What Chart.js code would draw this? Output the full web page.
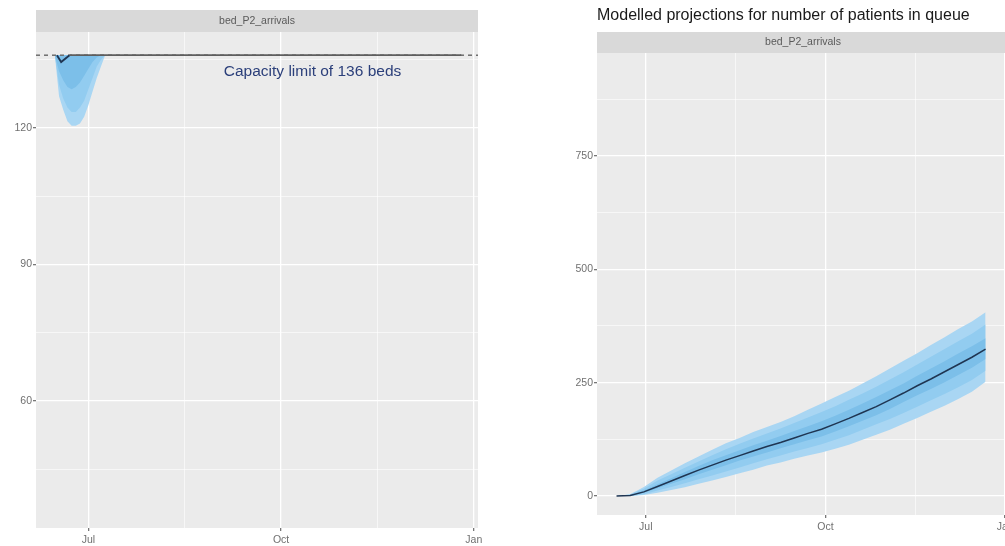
<!DOCTYPE html>
<html>
<head>
<meta charset="utf-8">
<script src="https://cdn.jsdelivr.net/npm/chart.js@4.4.1/dist/chart.umd.min.js"></script>
<style>
html, body { margin: 0; padding: 0; background: #fff; overflow: hidden; width: 1005px; height: 546px; }
#bedChart { position: absolute; left: 0; top: 0; }
#queueChart { position: absolute; left: 500px; top: 0; }
</style>
</head>
<body>
<canvas id="bedChart" width="500" height="546"></canvas>
<canvas id="queueChart" width="520" height="546"></canvas>
<script>
const stripLabel = 'bed_P2_arrivals';
const queueTitle = 'Modelled projections for number of patients in queue';
const capacity = 136;
const capacityLabel = 'Capacity limit of 136 beds';
const capacityLabelDate = '2020-10-16';
const capacityLabelValue = 132.3;

const originDate = '2020-07-01';
const xMinDate = '2020-06-06';
const xMaxDate = '2021-01-03';
const xTickDates = ['2020-07-01', '2020-10-01', '2021-01-01'];
const xTickLabels = ['Jul', 'Oct', 'Jan'];
const xMinorDates = ['2020-08-16', '2020-11-16'];

const bedYTicks = [60, 90, 120];
const bedYMinor = [45, 75, 105, 135];
const queueYTicks = [0, 250, 500, 750];
const queueYMinor = [125, 375, 625, 875];

// beds occupied (left panel)
const bedDates = ['2020-06-15', '2020-06-17', '2020-06-19', '2020-06-21', '2020-06-23', '2020-06-25', '2020-06-27',
                  '2020-06-29', '2020-07-01', '2020-07-03', '2020-07-05', '2020-07-07', '2020-07-09'];
const bedHigh = [136, 136, 136, 136, 136, 136, 136, 136, 136, 136, 136, 136, 136];
const bedLow90 = [136, 127, 124, 121.5, 120.5, 120.5, 121, 122.5, 125, 128, 131, 133.5, 136];
const bedLow75 = [136, 129.5, 126.5, 124.5, 123.5, 123.5, 124.5, 126, 128.5, 131, 133.5, 135, 136];
const bedLow50 = [136, 132.5, 130.5, 129, 128.5, 129, 130, 131.5, 133, 134.5, 135.5, 136, 136];
const bedMedianDates = ['2020-06-16', '2020-06-18', '2020-06-22', '2020-12-26'];
const bedMedian = [136, 134.5, 136, 136];

// patients in queue (right panel)
const queueDates = ['2020-06-16', '2020-06-23', '2020-06-30', '2020-07-07', '2020-07-14', '2020-07-21', '2020-07-28',
                    '2020-08-04', '2020-08-11', '2020-08-18', '2020-08-25', '2020-09-01', '2020-09-08', '2020-09-15',
                    '2020-09-22', '2020-09-29', '2020-10-06', '2020-10-13', '2020-10-20', '2020-10-27', '2020-11-03',
                    '2020-11-10', '2020-11-17', '2020-11-24', '2020-12-01', '2020-12-08', '2020-12-15', '2020-12-22'];
const queueMedian = [0, 1, 9, 21, 33, 45, 57, 68, 79, 89, 99, 109, 118, 128, 138, 147, 159, 171, 184, 197, 212, 227, 243, 258, 274, 290, 306, 324];
const queueLow90 = [0, 0, 2, 7, 13, 19, 27, 34, 42, 50, 58, 67, 74, 82, 89, 96, 104, 113, 124, 135, 146, 159, 172, 186, 199, 214, 230, 252];
const queueHigh90 = [0, 4, 20, 40, 56, 72, 87, 102, 116, 128, 141, 152, 163, 176, 190, 204, 218, 232, 248, 264, 281, 298, 315, 333, 350, 368, 385, 405];
const queueLow75 = [0, 0, 4, 12, 20, 28, 37, 45, 54, 63, 72, 81, 89, 98, 106, 114, 124, 134, 146, 158, 170, 183, 197, 211, 225, 240, 256, 276];
const queueHigh75 = [0, 3, 16, 34, 48, 62, 76, 90, 103, 115, 127, 138, 149, 161, 173, 185, 198, 212, 226, 241, 257, 273, 290, 307, 324, 341, 358, 378];
const queueLow50 = [0, 1, 7, 17, 27, 37, 48, 58, 68, 78, 87, 96, 105, 114, 123, 131, 142, 154, 166, 178, 192, 207, 222, 236, 251, 267, 283, 302];
const queueHigh50 = [0, 2, 12, 26, 39, 53, 66, 79, 90, 101, 112, 122, 132, 143, 154, 165, 177, 190, 204, 218, 233, 248, 265, 281, 297, 314, 330, 348];

const band90 = '#a9d6f3';
const band75 = '#92ccf0';
const band50 = '#7cbfe9';
const medianColor = '#1f3552';
const capLineColor = '#5e5e5e';
const tickFont = { family: '"Liberation Sans", Arial, sans-serif', size: 10.5 };

function dayOf(s) {
    return (Date.parse(s) - Date.parse(originDate)) / 86400000;
}

function points(dates, values) {
    return dates.map((d, i) => ({ x: dayOf(d), y: values[i] }));
}

const xMajor = xTickDates.map(dayOf);
const xMinor = xMinorDates.map(dayOf);

function line(data, color, width, fill) {
    return {
        data: data,
        borderColor: color,
        borderWidth: width,
        backgroundColor: color,
        pointRadius: 0,
        tension: 0,
        fill: fill === undefined ? false : fill
    };
}

function band(dataHigh, dataLow, color, hiIndex) {
    const hi = line(dataHigh, 'rgba(0,0,0,0)', 0);
    const lo = line(dataLow, 'rgba(0,0,0,0)', 0, { target: hiIndex });
    lo.backgroundColor = color;
    return [hi, lo];
}

const panelPlugin = {
    id: 'panel',
    beforeDraw(chart, args, opts) {
        const { ctx, chartArea: a } = chart;
        ctx.save();
        ctx.fillStyle = '#ebebeb';
        ctx.fillRect(a.left, a.top, a.right - a.left, a.bottom - a.top);
        ctx.fillStyle = '#d9d9d9';
        ctx.fillRect(a.left, a.top - opts.stripHeight, a.right - a.left, opts.stripHeight);
        ctx.fillStyle = '#5a5a5a';
        ctx.font = '10.5px "Liberation Sans", Arial, sans-serif';
        ctx.textAlign = 'center';
        ctx.textBaseline = 'middle';
        ctx.fillText(stripLabel, (a.left + a.right) / 2, a.top - opts.stripHeight / 2);
        if (opts.title) {
            ctx.fillStyle = '#1a1a1a';
            ctx.font = '16px "Liberation Sans", Arial, sans-serif';
            ctx.textAlign = 'left';
            ctx.fillText(opts.title, a.left, 16);
        }
        ctx.restore();
    },
    afterDatasetsDraw(chart, args, opts) {
        if (!opts.label) return;
        const { ctx, scales } = chart;
        ctx.save();
        ctx.fillStyle = '#2b3f7a';
        ctx.font = '15.5px "Liberation Sans", Arial, sans-serif';
        ctx.textAlign = 'center';
        ctx.textBaseline = 'middle';
        ctx.fillText(opts.label, scales.x.getPixelForValue(dayOf(capacityLabelDate)), scales.y.getPixelForValue(capacityLabelValue));
        ctx.restore();
    }
};

function makeOptions(yMin, yMax, yMajor, yMinor, yWidth, xHeight, padding, panelOpts) {
    return {
        responsive: false,
        animation: false,
        layout: { padding: padding },
        plugins: { legend: { display: false }, tooltip: { enabled: false }, panel: panelOpts },
        scales: {
            x: {
                type: 'linear',
                min: dayOf(xMinDate),
                max: dayOf(xMaxDate),
                afterBuildTicks: s => { s.ticks = xMajor.concat(xMinor).map(v => ({ value: v })); },
                afterFit: s => { s.height = xHeight; },
                ticks: {
                    autoSkip: false,
                    maxRotation: 0,
                    padding: 3,
                    color: '#707070',
                    font: tickFont,
                    callback: v => { const i = xMajor.indexOf(v); return i >= 0 ? xTickLabels[i] : ''; }
                },
                grid: {
                    color: '#ffffff',
                    lineWidth: c => xMajor.includes(c.tick.value) ? 1.3 : 0.6,
                    tickColor: c => xMajor.includes(c.tick.value) ? '#777777' : 'rgba(0,0,0,0)',
                    tickLength: 3
                },
                border: { display: false }
            },
            y: {
                type: 'linear',
                min: yMin,
                max: yMax,
                afterBuildTicks: s => { s.ticks = yMajor.concat(yMinor).map(v => ({ value: v })); },
                afterFit: s => { s.width = yWidth; },
                ticks: {
                    autoSkip: false,
                    padding: 1,
                    color: '#707070',
                    font: tickFont,
                    callback: v => yMajor.includes(v) ? String(v) : ''
                },
                grid: {
                    color: '#ffffff',
                    lineWidth: c => yMajor.includes(c.tick.value) ? 1.3 : 0.6,
                    tickColor: c => yMajor.includes(c.tick.value) ? '#777777' : 'rgba(0,0,0,0)',
                    tickLength: 3
                },
                border: { display: false }
            }
        }
    };
}

const bedCap = line([{ x: dayOf(xMinDate), y: capacity }, { x: dayOf(xMaxDate), y: capacity }], '#6e6e6e', 1.5);
bedCap.borderDash = [4, 4];

const bedMedianLine = line(points(bedMedianDates, bedMedian), medianColor, 1.8);
bedMedianLine.segment = {
    borderColor: c => (c.p0.parsed.y === capacity && c.p1.parsed.y === capacity) ? capLineColor : medianColor
};

new Chart(document.getElementById('bedChart'), {
    type: 'line',
    data: {
        datasets: [
            bedMedianLine,
            bedCap,
            ...band(points(bedDates, bedHigh), points(bedDates, bedLow50), band50, 2),
            ...band(points(bedDates, bedHigh), points(bedDates, bedLow75), band75, 4),
            ...band(points(bedDates, bedHigh), points(bedDates, bedLow90), band90, 6)
        ]
    },
    options: makeOptions(32.1, 141.1, bedYTicks, bedYMinor, 36, 18,
        { top: 32, right: 22, left: 0, bottom: 0 },
        { stripHeight: 22, label: capacityLabel }),
    plugins: [panelPlugin]
});

new Chart(document.getElementById('queueChart'), {
    type: 'line',
    data: {
        datasets: [
            line(points(queueDates, queueMedian), medianColor, 1.5),
            ...band(points(queueDates, queueHigh50), points(queueDates, queueLow50), band50, 1),
            ...band(points(queueDates, queueHigh75), points(queueDates, queueLow75), band75, 3),
            ...band(points(queueDates, queueHigh90), points(queueDates, queueLow90), band90, 5)
        ]
    },
    options: makeOptions(-42, 977, queueYTicks, queueYMinor, 97, 31,
        { top: 53, right: 11, left: 0, bottom: 0 },
        { stripHeight: 21, title: queueTitle }),
    plugins: [panelPlugin]
});
</script>
</body>
</html>
